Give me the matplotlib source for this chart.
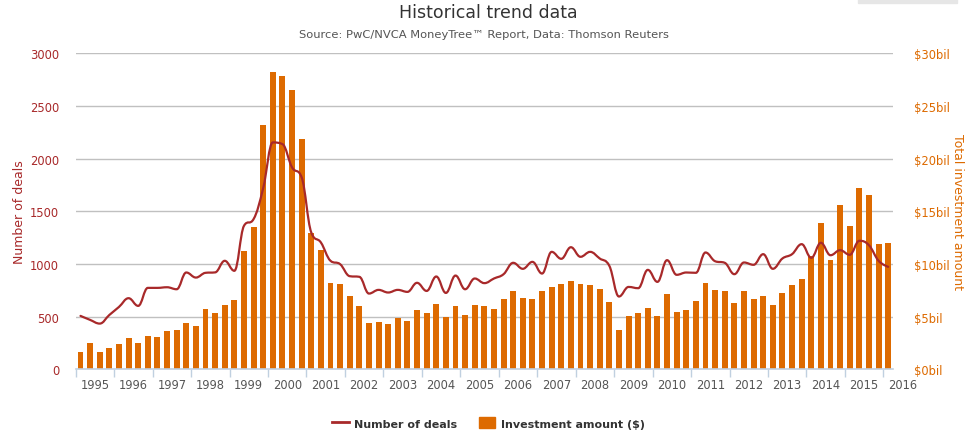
import matplotlib
matplotlib.use("Agg")
import matplotlib.pyplot as plt
import matplotlib.transforms as mtransforms
from matplotlib.path import Path
from matplotlib.patches import PathPatch, Rectangle
from matplotlib.lines import Line2D
import numpy as np

# quarterly data, 1995 Q1 .. 2016 Q1
years = list(range(1995, 2017))
deals = [507, 469, 434, 516, 592, 675, 602, 773, 773, 779, 760, 919, 871, 916, 920,
         1030, 935, 1362, 1426, 1720, 2154, 2138, 1917, 1822, 1299, 1204, 1030, 998,
         884, 878, 719, 754, 729, 754, 735, 821, 744, 881, 725, 890, 760, 862, 818,
         862, 903, 1011, 954, 1020, 909, 1115, 1049, 1159, 1068, 1115, 1052, 982,
         691, 782, 770, 944, 830, 1036, 897, 919, 916, 1109, 1026, 1011, 903, 1014,
         992, 1093, 954, 1052, 1093, 1188, 1058, 1201, 1083, 1131, 1087, 1220, 1178,
         1030, 973]
invest = [1.62, 2.47, 1.62, 2.00, 2.38, 2.95, 2.47, 3.14, 3.04, 3.61, 3.71, 4.37,
          4.09, 5.70, 5.32, 6.08, 6.56, 11.21, 13.50, 23.19, 28.23, 27.85, 26.52,
          21.86, 12.93, 11.31, 8.17, 8.08, 6.94, 5.99, 4.37, 4.47, 4.28, 4.85, 4.56,
          5.61, 5.32, 6.18, 4.94, 5.99, 5.13, 6.08, 5.99, 5.70, 6.65, 7.41, 6.75,
          6.65, 7.41, 7.79, 8.08, 8.36, 8.08, 7.98, 7.60, 6.37, 3.71, 5.04, 5.32,
          5.80, 5.04, 7.13, 5.42, 5.61, 6.46, 8.17, 7.51, 7.41, 6.27, 7.41, 6.65,
          6.94, 6.08, 7.22, 7.98, 8.55, 10.75, 13.88, 10.36, 15.59, 13.59, 17.20,
          16.54, 11.88, 11.98]

BAR = '#DD6A00'
LINE = '#A8292A'
W, H = 977, 439

fig = plt.figure(figsize=(W / 100, H / 100), dpi=100)
ax = fig.add_axes([75.7 / W, 1 - 370.3 / H, (893 - 75.7) / W, (370.3 - 54.3) / H])
ax2 = ax.twinx()

x = np.arange(len(invest))
ax2.bar(x, invest, width=0.62, color=BAR, zorder=2)
ax2.set_ylim(0, 30)
ax.set_ylim(0, 3000)
ax.set_xlim(-0.5, len(invest) - 0.5)

# spline like highcharts
def spline_path(xs, ys, smoothing=1.5):
    n = len(xs)
    denom = smoothing + 1
    rc = [None] * n
    verts = [(xs[0], ys[0])]
    codes = [Path.MOVETO]
    for i in range(1, n):
        px, py = xs[i], ys[i]
        lx, ly = px, py
        if i < n - 1:
            lastX, lastY = xs[i - 1], ys[i - 1]
            nextX, nextY = xs[i + 1], ys[i + 1]
            lx = (smoothing * px + lastX) / denom
            ly = (smoothing * py + lastY) / denom
            rx = (smoothing * px + nextX) / denom
            ry = (smoothing * py + nextY) / denom
            corr = (ry - ly) * (rx - px) / (rx - lx) + py - ry
            ly += corr
            ry += corr
            if ly > lastY and ly > py:
                ly = max(lastY, py)
                ry = 2 * py - ly
            elif ly < lastY and ly < py:
                ly = min(lastY, py)
                ry = 2 * py - ly
            if ry > nextY and ry > py:
                ry = max(nextY, py)
                ly = 2 * py - ry
            elif ry < nextY and ry < py:
                ry = min(nextY, py)
                ly = 2 * py - ry
            rc[i] = (rx, ry)
        prev = rc[i - 1] if rc[i - 1] is not None else (xs[i - 1], ys[i - 1])
        verts += [prev, (lx, ly), (px, py)]
        codes += [Path.CURVE4] * 3
    return Path(verts, codes)

ax.set_zorder(ax2.get_zorder() + 1)
ax.patch.set_visible(False)
ax.add_patch(PathPatch(spline_path(x.astype(float), np.array(deals, float)),
                       fill=False, edgecolor=LINE, lw=1.6, zorder=3,
                       capstyle='round', joinstyle='round'))

# grid
for v in range(0, 3001, 500):
    if v > 0:
        ax2.axhline(v / 100, color='#C0C0C0', lw=1, zorder=1)

for a in (ax, ax2):
    for s in a.spines.values():
        s.set_visible(False)
ax.axhline(0, color='#C0D0E0', lw=1.2, zorder=4, clip_on=False)

ax.set_yticks(range(0, 3001, 500))
ax.tick_params(axis='y', length=0, labelcolor=LINE, labelsize=8.3, pad=12)
ax2.set_yticks(range(0, 31, 5))
ax2.set_yticklabels(['$%dbil' % v for v in range(0, 31, 5)])
ax2.tick_params(axis='y', length=0, labelcolor=BAR, labelsize=8.3, pad=15)

ax.set_xticks(np.arange(-0.5, len(invest), 4))
ax.set_xticklabels([])
ax.tick_params(axis='x', length=6, color='#C0D0E0', width=1)
trans = mtransforms.blended_transform_factory(ax.transData, ax.transAxes)
for k, yr in enumerate(years):
    ax.text(4 * k + 1.5, -0.027, str(yr), transform=trans, ha='center', va='top',
            fontsize=8.3, color='#555555', clip_on=False)

ax.set_ylabel('Number of deals', color=LINE, fontsize=9, labelpad=3)
ax2.set_ylabel('Total investment amount', color=BAR, fontsize=9, rotation=270,
               labelpad=10)

fig.text(0.5, 1 - 13 / H, 'Historical trend data', ha='center', va='center',
         fontsize=12.5, color='#333333')
fig.text(0.495, 1 - 35 / H, 'Source: PwC/NVCA MoneyTree\u2122 Report, Data: Thomson Reuters',
         ha='center', va='center', fontsize=8.25, color='#555555')

handles = [Line2D([], [], color=LINE, lw=2),
           Rectangle((0, 0), 1, 1, color=BAR)]
leg = fig.legend(handles, ['Number of deals', 'Investment amount ($)'], loc='center',
                 bbox_to_anchor=(0.5, 1 - 424 / H), ncol=2, frameon=False,
                 prop={'weight': 'bold', 'size': 8}, handlelength=1.5,
                 handleheight=1.1, columnspacing=1.9, handletextpad=0.5)
for t in leg.get_texts():
    t.set_color('#333333')

fig.patches.append(Rectangle((858 / W, 1 - 4 / H), 99 / W, 4 / H, transform=fig.transFigure,
                             color='#E6E6E6', zorder=0))

fig.savefig('out.png', dpi=100)
